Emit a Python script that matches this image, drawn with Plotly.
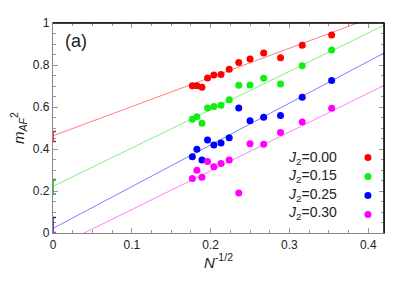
import plotly.graph_objects as go

# ---- data ----
x_vals = [0.1768, 0.1826, 0.1890, 0.1961, 0.2041, 0.2132, 0.2236,
          0.2357, 0.2500, 0.2673, 0.2887, 0.3162, 0.3536]

m_j000 = [0.701, 0.701, 0.694, 0.738, 0.752, 0.755, 0.780,
          0.812, 0.829, 0.857, 0.835, 0.894, 0.943]
m_j015 = [0.542, 0.554, 0.523, 0.595, 0.602, 0.608, 0.635,
          0.703, 0.705, 0.737, 0.709, 0.797, 0.872]
m_j025 = [0.363, 0.399, 0.348, 0.443, 0.419, 0.428, 0.454,
          0.595, 0.535, 0.551, 0.560, 0.646, 0.726]
m_j030 = [0.260, 0.299, 0.266, 0.340, 0.316, 0.331, 0.348,
          0.191, 0.425, 0.423, 0.478, 0.528, 0.594]

labels = ["0.00", "0.15", "0.25", "0.30"]
fit_intercept = [0.463, 0.222, 0.022, -0.073]
fit_slope = [1.39, 1.826, 1.988, 1.847]
err_plus = [0.020, 0.033, 0.052, 0.075]
err_minus = [0.027, 0.036, 0.022, 0.075]

series = [m_j000, m_j015, m_j025, m_j030]
marker_colors = ["#ff0000", "#11ee11", "#0000ff", "#ff00ff"]
line_colors = ["#ff7070", "#70f070", "#7070ff", "#ff70ff"]
err_colors = ["#cc2020", "#20b020", "#2020aa", "#dd20dd"]

x_line = [0.0, 0.42]

fig = go.Figure()

# fit lines
for i in range(4):
    fig.add_trace(go.Scatter(
        x=x_line, y=[fit_intercept[i] + fit_slope[i] * xv for xv in x_line],
        mode="lines", line=dict(color=line_colors[i], width=0.9),
        showlegend=False, hoverinfo="skip"))

# extrapolated values with error bars at x = 0
for i in range(4):
    fig.add_trace(go.Scatter(
        x=[0.0], y=[fit_intercept[i]], mode="markers",
        marker=dict(size=1, color=err_colors[i], opacity=0),
        error_y=dict(type="data", symmetric=False,
                     array=[err_plus[i]], arrayminus=[err_minus[i]],
                     color=err_colors[i], thickness=1.5, width=3),
        cliponaxis=(i == 3), showlegend=False, hoverinfo="skip"))

# data points
for i in range(4):
    fig.add_trace(go.Scatter(
        x=x_vals, y=series[i], mode="markers",
        marker=dict(size=7, color=marker_colors[i]),
        name=" ", showlegend=True))

# legend text (symbols come from legend)
row_y = [0.358, 0.270, 0.181, 0.093]
annotations = []
for i in range(4):
    annotations.append(dict(
        x=0.864, y=row_y[i], xref="paper", yref="paper",
        xanchor="right", yanchor="middle", showarrow=False,
        text="<i>J</i><sub>2</sub>=" + labels[i],
        font=dict(size=14, color="#222")))
annotations.append(dict(
    x=0.03, y=0.912, xref="paper", yref="paper", xanchor="left",
    yanchor="middle", showarrow=False, text="(a)",
    font=dict(size=18, color="#222")))

axis_common = dict(
    showgrid=False, zeroline=False, showline=True, linecolor="#888888",
    linewidth=1.2, mirror="ticks", ticks="inside", ticklen=5,
    tickcolor="#999999", tickfont=dict(size=12, color="#222"),
    layer="below traces",
)

# page has an 8px body margin, so the figure is sized to fit inside it
fig.update_layout(
    width=401, height=278,
    margin=dict(l=45, r=25, t=8, b=53),
    plot_bgcolor="white", paper_bgcolor="white",
    font=dict(family="Liberation Sans, Arial, sans-serif", color="#222"),
    xaxis=dict(range=[0, 0.42], dtick=0.1, tick0=0,
               minor=dict(dtick=0.025, ticks="inside", ticklen=3,
                          tickcolor="#999999"),
               title=dict(text="<i>N</i><sup>-1/2</sup>",
                          font=dict(size=15), standoff=2),
               **axis_common),
    yaxis=dict(range=[0, 1], dtick=0.2, tick0=0,
               minor=dict(dtick=0.05, ticks="inside", ticklen=3,
                          tickcolor="#999999"),
               title=dict(text="<i>m</i><sub><i>AF</i></sub><sup>2</sup>",
                          font=dict(size=15), standoff=4),
               **axis_common),
    legend=dict(x=0.891, y=0.428, xanchor="left", yanchor="top",
                bgcolor="rgba(0,0,0,0)", font=dict(size=12),
                itemsizing="trace"),
    annotations=annotations,
    shapes=[
        dict(type="line", xref="paper", yref="paper", x0=0, x1=1, y0=1, y1=1,
             line=dict(color="black", width=1.5)),
        dict(type="line", xref="paper", yref="paper", x0=1, x1=1, y0=0, y1=1,
             line=dict(color="black", width=1.5)),
    ],
)

fig.write_html("out.html")
